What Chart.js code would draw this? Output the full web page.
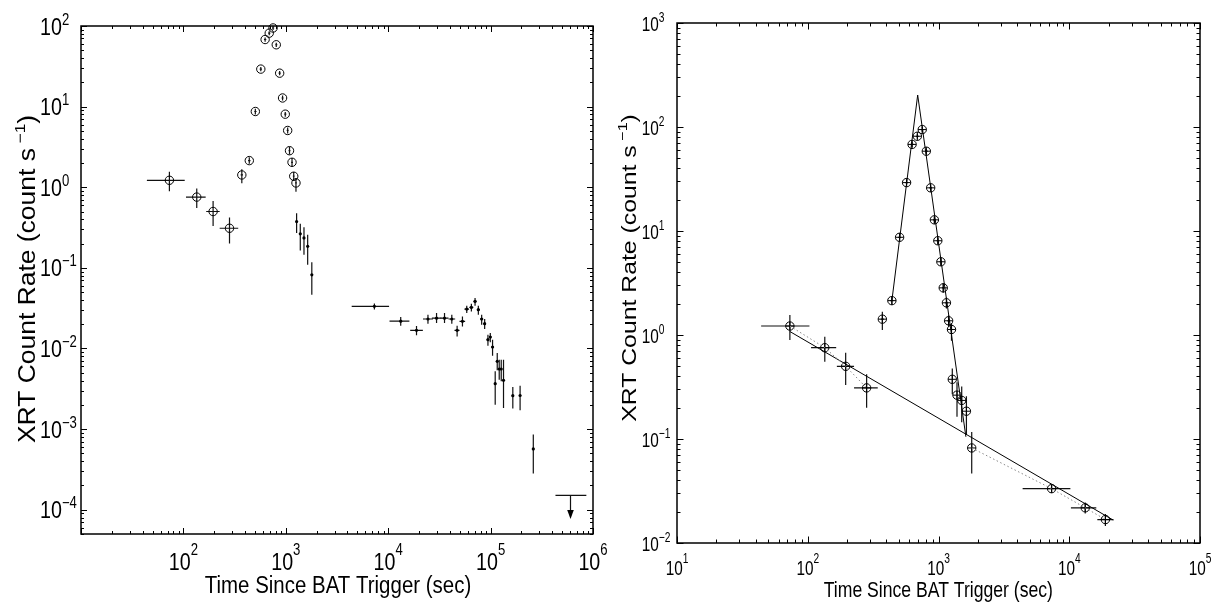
<!DOCTYPE html>
<html>
<head>
<meta charset="utf-8">
<script src="https://cdn.jsdelivr.net/npm/chart.js@4/dist/chart.umd.min.js"></script>
<style>
  html, body { margin: 0; padding: 0; background: #fff; }
  #wrap { position: relative; width: 1217px; height: 606px; overflow: hidden; }
  canvas { position: absolute; top: 0; }
</style>
</head>
<body>
<div id="wrap">
  <canvas id="left" width="608" height="606" style="left:0"></canvas>
  <canvas id="right" width="609" height="606" style="left:608px"></canvas>
</div>
<script>
// early part + flare (open circles in both panels)
const earlyT   = [73, 135, 195, 282, 372, 440, 504, 570, 628, 689, 751, 807, 871, 930, 988, 1043, 1087, 1150, 1195, 1257];
const earlyR   = [1.22, 0.755, 0.50, 0.31, 1.42, 2.14, 8.7, 29.2, 68, 81.5, 94.5, 58.5, 26, 12.8, 8.06, 5.06, 2.84, 2.04, 1.37, 1.13];
const earlyTLo = [44, 106, 167, 226, 362, 428, 492, 556, 612, 672, 733, 788, 850, 908, 965, 1020, 1064, 1126, 1172, 1232];
const earlyTHi = [103, 165, 226, 343, 382, 452, 518, 585, 645, 707, 770, 827, 893, 953, 1012, 1067, 1111, 1175, 1220, 1283];
const earlyRLo = [0.895, 0.553, 0.33, 0.20, 1.12, 1.95, 8.0, 27.5, 64, 77, 89, 55, 24.5, 11.9, 7.5, 4.65, 2.55, 1.8, 1.2, 0.88];
const earlyRHi = [1.56, 0.964, 0.676, 0.42, 1.67, 2.35, 9.4, 31, 72, 86, 100, 62, 27.6, 13.7, 8.6, 5.5, 3.15, 2.3, 1.55, 1.3];

// after the flare (dots on the left, circles on the right)
const lateT   = [1275, 1385, 1505, 1635, 1795, 7330, 13250, 18900];
const lateR   = [0.375, 0.264, 0.235, 0.185, 0.082, 0.0333, 0.0218, 0.0168];
const lateTLo = [1262, 1372, 1492, 1622, 1780, 4400, 10300, 16400];
const lateTHi = [1288, 1398, 1518, 1648, 1810, 10200, 16100, 21800];
const lateRLo = [0.27, 0.164, 0.145, 0.109, 0.0465, 0.0305, 0.0192, 0.0146];
const lateRHi = [0.477, 0.352, 0.32, 0.257, 0.117, 0.0362, 0.0245, 0.019];

// late bump and decay (left panel only)
const tailT   = [24450, 29660, 35480, 41800, 47100, 53100, 58500, 64900, 70500, 75900, 81800, 87500, 94200, 99300, 104500, 110900, 116100, 121400, 127000, 133700, 164800, 194100, 261200];
const tailR   = [0.0232, 0.0238, 0.0238, 0.0232, 0.0168, 0.0217, 0.0308, 0.0323, 0.0384, 0.0303, 0.0232, 0.0203, 0.01285, 0.01387, 0.01043, 0.00366, 0.00693, 0.00557, 0.00557, 0.00403, 0.0026, 0.00261, 0.000568];
const tailTLo = [21870, 26700, 32460, 38800, 44400, 49700, 55500, 62000, 68000, 73500, 79000, 85000, 91500, 96800, 102000, 108500, 113800, 119000, 124500, 131000, 161000, 190000, 255000];
const tailTHi = [27350, 32960, 38800, 45080, 49700, 56400, 61600, 67800, 73000, 78500, 84600, 90000, 97000, 101800, 107000, 113300, 118500, 124000, 129500, 136400, 168600, 198000, 267000];
const tailRLo = [0.0203, 0.0207, 0.0207, 0.0203, 0.0141, 0.0188, 0.0275, 0.0288, 0.0339, 0.0262, 0.0197, 0.0174, 0.01083, 0.01191, 0.00814, 0.00201, 0.00536, 0.0041, 0.00392, 0.00183, 0.0018, 0.00171, 0.000281];
const tailRHi = [0.0262, 0.0275, 0.0275, 0.0262, 0.0192, 0.025, 0.0339, 0.0359, 0.0422, 0.0339, 0.0262, 0.0232, 0.0148, 0.01556, 0.01285, 0.00521, 0.00879, 0.00726, 0.00726, 0.00726, 0.00333, 0.00346, 0.000855];

// upper limit
const limitT = [603000];
const limitR = [1.51e-4];
const limitTLo = [430000];
const limitTHi = [861000];
const limitArrow = [7.7e-5];

// fitted models on the right panel
const plawT = [73, 21700];
const plawR = [1.08, 0.0166];
const flareT = [440, 693, 1620];
const flareR = [2.14, 203, 0.105];
const dotEarlyT = [73, 135, 195, 282];
const dotEarlyR = [1.22, 0.755, 0.50, 0.31];
const dotLateT = [1795, 7330, 13250, 18900];
const dotLateR = [0.082, 0.0333, 0.0218, 0.0168];

const FONT = '"Liberation Sans", Arial, Helvetica, sans-serif';

const pts = (t, r) => t.map((v, i) => ({x: v, y: r[i]}));

function text(ctx, s, x, y, size, sx) {
    ctx.save();
    ctx.font = size + 'px ' + FONT;
    ctx.translate(x, y);
    ctx.scale(sx, 1);
    ctx.textAlign = 'left';
    ctx.textBaseline = 'alphabetic';
    ctx.fillText(s, 0, 0);
    ctx.restore();
}

function width(ctx, s, size, sx) {
    ctx.font = size + 'px ' + FONT;
    return ctx.measureText(s).width * sx;
}

function powLabel(ctx, e, x, y, f, centered) {
    let ex = e < 0 ? '\u2212' + (-e) : String(e);
    let wb = width(ctx, '10', f.size, f.sx);
    let we = width(ctx, ex, f.exp, f.sx);
    let x0 = centered ? x - (wb + we) / 2 : x;
    text(ctx, '10', x0, y, f.size, f.sx);
    text(ctx, ex, x0 + wb, y - f.raise, f.exp, f.sx);
}

const errorBars = {
    id: 'errorBars',
    beforeDatasetsDraw(chart) {
        let ctx = chart.ctx;
        let a = chart.chartArea;
        let xs = chart.scales.x, ys = chart.scales.y;
        ctx.save();
        ctx.beginPath();
        ctx.rect(a.left, a.top, a.right - a.left, a.bottom - a.top);
        ctx.clip();
        ctx.strokeStyle = '#111';
        ctx.fillStyle = '#000';
        ctx.lineWidth = 1.2;
        for (let ds of chart.data.datasets) {
            if (!ds.err) continue;
            let e = ds.err;
            ds.data.forEach((p, i) => {
                let px = xs.getPixelForValue(p.x), py = ys.getPixelForValue(p.y);
                ctx.beginPath();
                if (e.tLo) {
                    ctx.moveTo(xs.getPixelForValue(e.tLo[i]), py);
                    ctx.lineTo(xs.getPixelForValue(e.tHi[i]), py);
                }
                if (e.rLo) {
                    ctx.moveTo(px, ys.getPixelForValue(e.rLo[i]));
                    ctx.lineTo(px, ys.getPixelForValue(e.rHi[i]));
                }
                if (e.arrow) {
                    let tip = ys.getPixelForValue(e.arrow[i]);
                    ctx.moveTo(px, py);
                    ctx.lineTo(px, tip - 8);
                }
                ctx.stroke();
                if (e.arrow) {
                    let tip = ys.getPixelForValue(e.arrow[i]);
                    ctx.beginPath();
                    ctx.moveTo(px - 3.3, tip - 9);
                    ctx.lineTo(px + 3.3, tip - 9);
                    ctx.lineTo(px, tip);
                    ctx.closePath();
                    ctx.fill();
                }
            });
        }
        ctx.restore();
    },
};

const frameAxes = {
    id: 'frameAxes',
    afterDraw(chart) {
        let o = chart.options.plugins.frameAxes;
        let ctx = chart.ctx;
        let a = chart.chartArea;
        let xs = chart.scales.x, ys = chart.scales.y;
        ctx.save();
        ctx.strokeStyle = '#000';
        ctx.fillStyle = '#000';

        ctx.lineWidth = 1;
        ctx.beginPath();
        for (let t of logTicks(xs.min, xs.max)) {
            let px = Math.round(xs.getPixelForValue(t.v)) + 0.5;
            let len = t.major ? o.major : o.minor;
            ctx.moveTo(px, a.bottom); ctx.lineTo(px, a.bottom - len);
            ctx.moveTo(px, a.top); ctx.lineTo(px, a.top + len);
        }
        for (let t of logTicks(ys.min, ys.max)) {
            let py = Math.round(ys.getPixelForValue(t.v)) + 0.5;
            let len = t.major ? o.major : o.minor;
            ctx.moveTo(a.left, py); ctx.lineTo(a.left + len, py);
            ctx.moveTo(a.right, py); ctx.lineTo(a.right - len, py);
        }
        ctx.stroke();

        ctx.lineWidth = 1.5;
        ctx.strokeRect(a.left, a.top, a.right - a.left, a.bottom - a.top);

        for (let e of o.xExps) {
            powLabel(ctx, e, xs.getPixelForValue(Math.pow(10, e)), o.xBase, o.xFont, true);
        }
        for (let e of o.yExps) {
            powLabel(ctx, e, o.yLeft, ys.getPixelForValue(Math.pow(10, e)) + o.yDrop, o.yFont, false);
        }

        // x title
        let t = o.xTitle;
        let w = width(ctx, t.text, t.size, t.sx);
        text(ctx, t.text, t.cx - w / 2, t.base, t.size, t.sx);

        // y title, rotated, with a superscript
        let y = o.yTitle;
        let w1 = width(ctx, y.text, y.size, y.sx);
        let gap = y.size * 0.18 * y.sx;
        let w2 = width(ctx, y.sup, y.supSize, y.sx);
        let w3 = width(ctx, y.tail, y.size, y.sx);
        let start = -(w1 + gap + w2 + w3) / 2;
        ctx.save();
        ctx.translate(y.base, y.cy);
        ctx.rotate(-Math.PI / 2);
        text(ctx, y.text, start, 0, y.size, y.sx);
        text(ctx, y.sup, start + w1 + gap, -y.raise, y.supSize, y.sx);
        text(ctx, y.tail, start + w1 + gap + w2, 0, y.size, y.sx);
        ctx.restore();

        ctx.restore();
    },
};

function logTicks(min, max) {
    let out = [];
    let lo = Math.floor(Math.log10(min)), hi = Math.ceil(Math.log10(max));
    for (let d = lo; d <= hi; d++) {
        for (let k = 1; k < 10; k++) {
            let v = k * Math.pow(10, d);
            if (v >= min * 0.999 && v <= max * 1.001) out.push({v: v, major: k === 1});
        }
    }
    return out;
}

function circles(t, r, err, radius) {
    return {
        data: pts(t, r),
        pointStyle: 'circle',
        pointRadius: radius,
        pointBorderWidth: 1,
        pointBorderColor: '#000',
        pointBackgroundColor: 'rgba(0,0,0,0)',
        showLine: false,
        clip: false,
        err: err,
    };
}

// the "plus inside a circle" look of the right panel markers
function crosses(t, r, radius) {
    return {
        data: pts(t, r),
        pointStyle: 'cross',
        pointRadius: radius,
        pointBorderWidth: 1,
        pointBorderColor: '#000',
        showLine: false,
        clip: false,
    };
}

function dots(t, r, err) {
    return {
        data: pts(t, r),
        pointStyle: 'circle',
        pointRadius: 1.6,
        pointBorderWidth: 0,
        pointBackgroundColor: '#000',
        showLine: false,
        err: err,
    };
}

function line(t, r, colour, dash) {
    return {
        data: pts(t, r),
        showLine: true,
        pointRadius: 0,
        borderColor: colour,
        borderWidth: 1,
        borderDash: dash || [],
        fill: false,
    };
}

function makePanel(id, padding, xRange, yRange, datasets, axes) {
    return new Chart(document.getElementById(id), {
        type: 'scatter',
        data: {datasets: datasets},
        options: {
            responsive: false,
            animation: false,
            events: [],
            devicePixelRatio: 1,
            layout: {padding: padding},
            scales: {
                x: {type: 'logarithmic', min: xRange[0], max: xRange[1], display: false},
                y: {type: 'logarithmic', min: yRange[0], max: yRange[1], display: false},
            },
            plugins: {
                legend: {display: false},
                tooltip: {enabled: false},
                frameAxes: axes,
            },
        },
        plugins: [errorBars, frameAxes],
    });
}

const earlyErr = {tLo: earlyTLo, tHi: earlyTHi, rLo: earlyRLo, rHi: earlyRHi};
const lateErr = {tLo: lateTLo, tHi: lateTHi, rLo: lateRLo, rHi: lateRHi};

makePanel('left', {left: 81, top: 26, right: 15, bottom: 72}, [10, 1e6], [5e-5, 100], [
    circles(earlyT, earlyR, earlyErr, 4.2),
    dots(lateT, lateR, lateErr),
    dots(tailT, tailR, {tLo: tailTLo, tHi: tailTHi, rLo: tailRLo, rHi: tailRHi}),
    {data: pts(limitT, limitR), pointRadius: 0, showLine: false,
     err: {tLo: limitTLo, tHi: limitTHi, arrow: limitArrow}},
], {
    major: 6, minor: 3,
    xExps: [2, 3, 4, 5, 6], xBase: 570,
    xFont: {size: 24, exp: 16, sx: 0.82, raise: 15},
    yExps: [2, 1, 0, -1, -2, -3, -4], yLeft: 40, yDrop: 8.5,
    yFont: {size: 24, exp: 16, sx: 0.82, raise: 10},
    xTitle: {text: 'Time Since BAT Trigger (sec)', cx: 338, base: 593, size: 23, sx: 0.89},
    yTitle: {text: 'XRT Count Rate (count s', sup: '\u22121', tail: ')', base: 35, cy: 279,
             size: 23, supSize: 15, raise: 10, sx: 1.15},
});

makePanel('right', {left: 69, top: 23, right: 17, bottom: 63}, [10, 1e5], [0.01, 1000], [
    line(dotEarlyT, dotEarlyR, '#888', [1.5, 2.5]),
    line(dotLateT, dotLateR, '#888', [1.5, 2.5]),
    line(plawT, plawR, '#000'),
    line(flareT, flareR, '#000'),
    circles(earlyT, earlyR, earlyErr, 4.2),
    circles(lateT, lateR, lateErr, 4.2),
    crosses(earlyT, earlyR, 4.2),
    crosses(lateT, lateR, 4.2),
], {
    major: 6.5, minor: 3.5,
    xExps: [1, 2, 3, 4, 5], xBase: 575,
    xFont: {size: 21, exp: 14, sx: 0.73, raise: 12},
    yExps: [3, 2, 1, 0, -1, -2], yLeft: 33.7, yDrop: 8,
    yFont: {size: 21, exp: 14, sx: 0.73, raise: 9},
    xTitle: {text: 'Time Since BAT Trigger (sec)', cx: 330.3, base: 597, size: 22, sx: 0.8},
    yTitle: {text: 'XRT Count Rate (count s', sup: '\u22121', tail: ')', base: 28, cy: 268,
             size: 20, supSize: 13, raise: 9, sx: 1.24},
});
</script>
</body>
</html>
